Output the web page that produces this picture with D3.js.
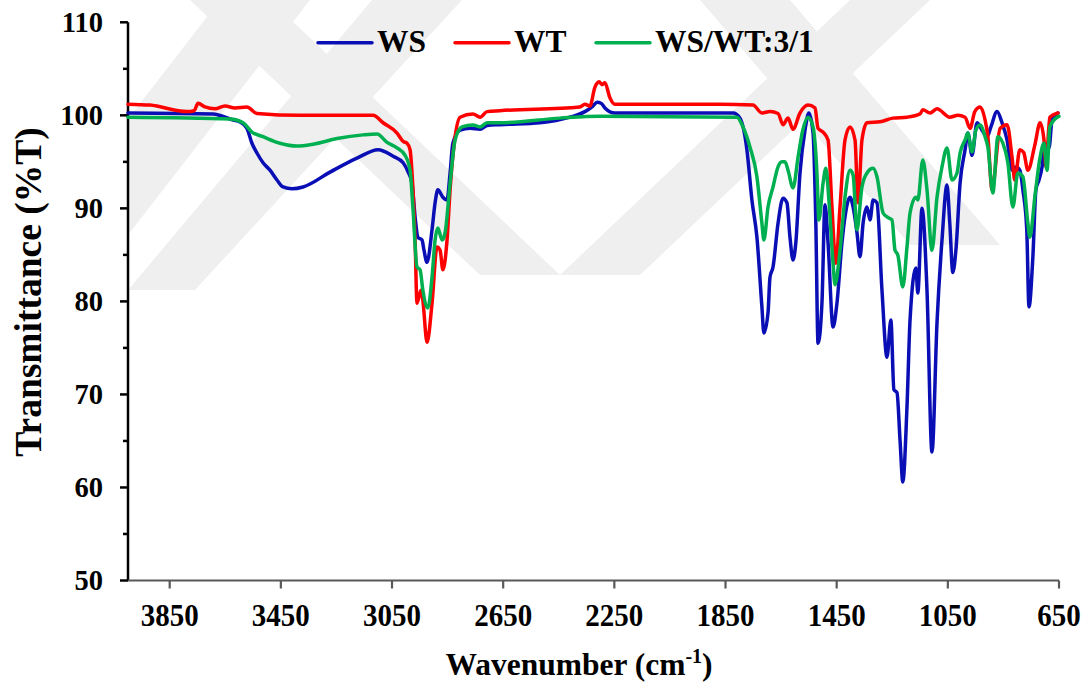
<!DOCTYPE html>
<html>
<head>
<meta charset="utf-8">
<script src="https://cdn.jsdelivr.net/npm/d3@7"></script>
<style>
  html, body { margin: 0; padding: 0; background: #ffffff; }
  svg { display: block; }
  svg text { font-family: "Liberation Serif", "Times New Roman", Times, "DejaVu Serif", serif; font-weight: bold; }
</style>
</head>
<body>
<svg id="chart" width="1084" height="686"></svg>
<script>
// FTIR spectra: transmittance (%T) against wavenumber (cm-1)
const seriesNames = ["WS", "WT", "WS/WT:3/1"];
const seriesColors = ["#0A0FB5", "#FF0000", "#00B050"];
const xTickValues = [3850, 3450, 3050, 2650, 2250, 1850, 1450, 1050, 650];
const yTickValues = [50, 60, 70, 80, 90, 100, 110];
const xDomain = [4000, 650];
const yDomain = [50, 110];

const wsWavenumber = [4000,3694,3622,3597,3572,3554,3536,3514,3489,3464,3442,3410,3370,3273,3176,3100,3046,3010,2992,2978,2967,2957,2942,2935,2924,2906,2895,2885,2867,2852,2841,2831,2805,2769,2733,2708,2662,2518,2410,2356,2327,2312,2298,2284,2248,1823,1798,1773,1755,1737,1719,1712,1697,1690,1679,1661,1643,1629,1618,1607,1597,1582,1564,1550,1535,1525,1517,1503,1492,1481,1463,1449,1431,1420,1402,1391,1377,1366,1355,1341,1330,1319,1305,1287,1269,1255,1244,1233,1222,1212,1197,1186,1165,1158,1143,1125,1107,1089,1071,1053,1043,1032,1021,1006,988,978,963,945,927,909,895,873,855,837,819,805,791,780,766,758,744,733,722,711,701,686,675,654];
const wsTransmittance = [100.25,100.15,99.5,99.3,98.6,97.0,95.95,94.9,94.1,93.05,92.3,92.1,92.3,93.9,95.4,96.3,95.6,94.9,93.9,92.7,89.1,86.9,86.6,85.5,84.2,87.7,90.6,92.0,91.2,90.9,93.8,97.0,98.4,98.6,98.5,98.9,99.0,99.2,99.8,100.4,101.0,101.4,101.3,100.8,100.25,100.25,99.7,96.3,90.9,86.9,79.4,76.6,78.8,82.6,83.7,88.4,91.1,90.6,86.9,84.45,86.3,93.8,98.4,100.25,98.1,88.4,75.5,79.8,90.4,86.3,77.25,79.8,86.3,89.1,91.2,90.15,87.4,84.8,88.4,90.15,88.75,90.9,90.6,81.2,74.0,78.0,70.5,70.2,65.1,60.6,68.65,78.0,83.6,80.9,90.0,81.2,63.8,77.7,86.6,92.5,88.4,83.1,85.5,92.7,96.3,98.1,95.7,99.2,98.4,97.7,98.75,100.4,99.2,97.35,94.1,94.45,94.1,92.0,87.7,79.4,84.8,92.0,93.05,94.45,97.0,96.5,99.5,100.25];

const wtWavenumber = [4000,3921,3788,3762,3748,3723,3687,3651,3615,3572,3536,3381,3118,3082,3032,3010,2996,2985,2978,2967,2960,2946,2939,2924,2906,2888,2877,2867,2852,2841,2823,2805,2759,2733,2708,2662,2374,2356,2338,2320,2305,2294,2284,2266,2248,1870,1751,1719,1690,1661,1643,1625,1607,1582,1553,1528,1517,1499,1481,1467,1453,1438,1420,1402,1384,1373,1359,1341,1294,1248,1197,1150,1140,1114,1089,1043,1014,988,970,953,934,916,906,891,862,837,819,809,791,777,762,737,718,704,697,683,654];
const wtTransmittance = [101.2,101.1,100.4,100.5,101.3,100.9,100.7,101.0,100.8,100.9,100.2,100.0,100.0,99.2,98.1,97.2,97.0,96.3,93.8,86.6,79.8,81.2,80.1,75.6,79.8,85.85,85.5,83.4,86.6,92.0,97.7,99.8,100.15,99.8,100.4,100.5,100.9,101.2,101.0,103.0,103.6,103.3,103.5,101.9,101.2,101.2,101.1,100.25,100.4,100.2,99.0,99.7,98.5,100.25,101.1,100.8,98.6,98.2,97.35,90.15,84.1,90.15,97.35,98.75,97.35,90.6,97.35,99.2,99.3,99.7,99.8,100.15,100.6,100.25,100.7,99.8,100.0,99.8,98.6,100.4,100.9,99.5,97.7,92.0,98.6,99.0,95.5,93.05,96.3,96.0,94.1,96.8,99.2,97.35,94.45,99.8,100.25];

const blendWavenumber = [4000,3633,3586,3554,3514,3453,3392,3334,3248,3154,3104,3068,3032,3003,2985,2975,2960,2949,2939,2921,2906,2895,2885,2870,2859,2841,2823,2798,2759,2733,2708,2662,2446,2302,1809,1787,1762,1737,1719,1712,1697,1679,1661,1647,1636,1625,1607,1589,1572,1553,1535,1521,1514,1499,1489,1478,1463,1456,1438,1420,1402,1391,1377,1359,1341,1319,1305,1283,1265,1251,1240,1230,1212,1197,1186,1165,1158,1140,1125,1107,1089,1071,1053,1035,1017,1006,988,978,963,949,934,916,906,888,870,852,834,816,798,780,762,755,737,718,704,693,683,657,650];
const blendTransmittance = [99.8,99.6,99.2,98.2,97.7,97.0,96.7,96.9,97.5,97.9,98.0,97.1,96.5,95.7,94.1,90.15,83.7,83.4,81.2,79.3,82.6,86.6,87.9,86.6,87.4,92.7,97.35,98.75,98.96,98.75,99.2,99.2,99.7,99.9,99.8,98.75,96.6,93.4,88.4,86.6,90.15,92.3,94.45,95.0,95.0,94.1,92.2,95.5,98.4,99.8,98.75,93.8,88.75,92.7,94.3,90.9,84.1,81.8,85.5,91.2,94.1,93.6,87.7,92.3,93.8,94.3,93.4,89.5,89.0,88.75,85.5,85.0,81.55,85.85,89.5,91.2,90.9,95.2,92.0,85.5,91.2,94.45,96.5,93.05,93.8,95.95,97.35,98.1,96.06,98.4,98.96,97.7,96.6,91.65,97.7,97.0,94.9,90.15,93.8,93.4,88.4,86.9,91.2,95.5,97.0,94.1,98.75,99.8,99.9];

const seriesData = [
  d3.zip(wsWavenumber, wsTransmittance),
  d3.zip(wtWavenumber, wtTransmittance),
  d3.zip(blendWavenumber, blendTransmittance)
];

const svg = d3.select("#chart");
const plot = { left: 128, right: 1059, top: 22.3, bottom: 580.5 };

const x = d3.scaleLinear().domain(xDomain).range([plot.left, plot.right]);
const y = d3.scaleLinear().domain(yDomain).range([plot.bottom, plot.top]);

// faint page watermark behind the chart
const wm = svg.append("g").attr("fill", "#efefef");
const bands = [
  [[220,0],[310,0],[128,235],[128,119]],
  [[372,0],[462,0],[195,290],[105,290]],
  [[190,0],[270,0],[560,275],[480,275]],
  [[930,0],[850,0],[560,275],[640,275]],
  [[700,0],[790,0],[1000,245],[910,245]]
];
bands.forEach(p => wm.append("polygon")
  .attr("points", p.map(d => [Math.max(plot.left, d[0]), d[1]].join(",")).join(" ")));

// y axis
const yAxis = svg.append("g").attr("transform", `translate(${plot.left},0)`);
yAxis.append("line").attr("x1", 0).attr("x2", 0).attr("y1", plot.top).attr("y2", plot.bottom)
  .attr("stroke", "#000").attr("stroke-width", 2.5);
yAxis.selectAll("line.major").data(yTickValues).join("line").attr("class", "major")
  .attr("x1", -8).attr("x2", 0).attr("y1", d => y(d)).attr("y2", d => y(d))
  .attr("stroke", "#000").attr("stroke-width", 2.5);
const yMinor = d3.range(55, 110, 10);
yAxis.selectAll("line.minor").data(yMinor).join("line").attr("class", "minor")
  .attr("x1", -5).attr("x2", 0).attr("y1", d => y(d)).attr("y2", d => y(d))
  .attr("stroke", "#000").attr("stroke-width", 2.5);
yAxis.selectAll("text").data(yTickValues).join("text")
  .attr("x", -25).attr("y", d => y(d)).attr("dy", "0.35em")
  .attr("text-anchor", "end")
  .attr("font-size", 28.5)
  .text(d => d);

// x axis
const xAxis = svg.append("g").attr("transform", `translate(0,${plot.bottom})`);
xAxis.append("line").attr("x1", plot.left).attr("x2", plot.right).attr("y1", 0).attr("y2", 0)
  .attr("stroke", "#595959").attr("stroke-width", 2.2);
xAxis.selectAll("line.tick").data(xTickValues).join("line").attr("class", "tick")
  .attr("x1", d => x(d)).attr("x2", d => x(d)).attr("y1", 0).attr("y2", 8)
  .attr("stroke", "#595959").attr("stroke-width", 2.2);
xAxis.selectAll("text").data(xTickValues).join("text")
  .attr("transform", d => `translate(${x(d)},45) scale(1,1.1)`)
  .attr("text-anchor", "middle")
  .attr("font-size", 29)
  .text(d => d);

// spectra
const line = d3.line()
  .x(d => x(d[0]))
  .y(d => y(d[1]))
  .curve(d3.curveMonotoneX);

svg.append("g").selectAll("path").data(seriesData).join("path")
  .attr("d", line)
  .attr("fill", "none")
  .attr("stroke", (d, i) => seriesColors[i])
  .attr("stroke-width", 3.5)
  .attr("stroke-linejoin", "round")
  .attr("stroke-linecap", "round");

// legend
const legendX = [318, 455, 596];
const legend = svg.append("g");
seriesNames.forEach((name, i) => {
  legend.append("line")
    .attr("x1", legendX[i]).attr("x2", legendX[i] + 54)
    .attr("y1", 42.7).attr("y2", 42.7)
    .attr("stroke", seriesColors[i]).attr("stroke-width", 3.5)
    .attr("stroke-linecap", "round");
  legend.append("text")
    .attr("x", legendX[i] + 59).attr("y", 52)
    .attr("font-size", 31.5)
    .text(name);
});

// axis titles
svg.append("text")
  .attr("transform", "translate(41,292) rotate(-90)")
  .attr("text-anchor", "middle")
  .attr("font-size", 37.5)
  .text("Transmittance (%T)");

const xTitle = svg.append("text")
  .attr("x", 579).attr("y", 675)
  .attr("text-anchor", "middle")
  .attr("font-size", 31.5);
xTitle.append("tspan").text("Wavenumber (cm");
xTitle.append("tspan").attr("font-size", 20).attr("dy", -12).text("-1");
xTitle.append("tspan").attr("dy", 12).text(")");
</script>
</body>
</html>
